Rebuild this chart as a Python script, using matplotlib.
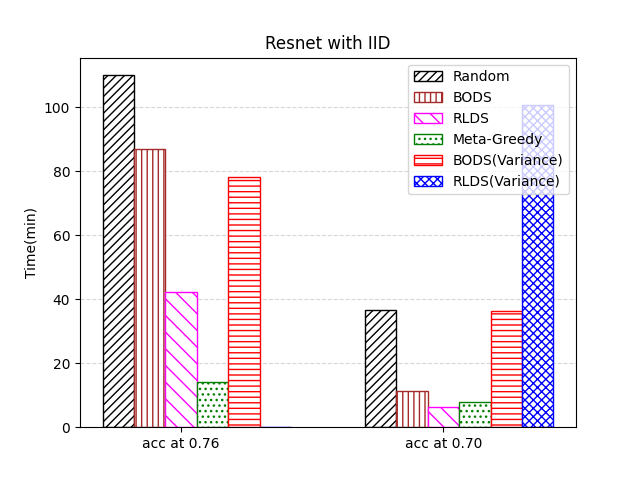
import numpy as np
import matplotlib
matplotlib.use("Agg")
import matplotlib.pyplot as plt

# data
groups = ['acc at 0.76', 'acc at 0.70']
methods = ['Random', 'BODS', 'RLDS', 'Meta-Greedy', 'BODS(Variance)', 'RLDS(Variance)']
random_t = [110.0, 36.6]
bods_t = [86.9, 11.2]
rlds_t = [42.3, 6.2]
meta_greedy_t = [14.1, 7.8]
bods_var_t = [78.1, 36.2]
rlds_var_t = [0.2, 100.6]

values = [random_t, bods_t, rlds_t, meta_greedy_t, bods_var_t, rlds_var_t]
edge_colors = ['black', 'brown', 'magenta', 'green', 'red', 'blue']
hatches = ['////', '|||', '\\\\', '...', '---', 'xxxx']

x = np.arange(len(groups))
width = 0.12

fig, ax = plt.subplots(figsize=(6.4, 4.8), dpi=100)
for i in range(len(methods)):
    ax.bar(x + (i - 2) * width, values[i], width, label=methods[i],
           color='white', edgecolor=edge_colors[i], hatch=hatches[i])

ax.set_xticks(x)
ax.set_xticklabels(groups)
ax.set_ylabel('Time(min)')
ax.set_title('Resnet with IID')
ax.yaxis.grid(True, linestyle='--', alpha=0.5)
ax.set_axisbelow(True)
ax.legend(loc='upper right')

plt.savefig("out.png")
